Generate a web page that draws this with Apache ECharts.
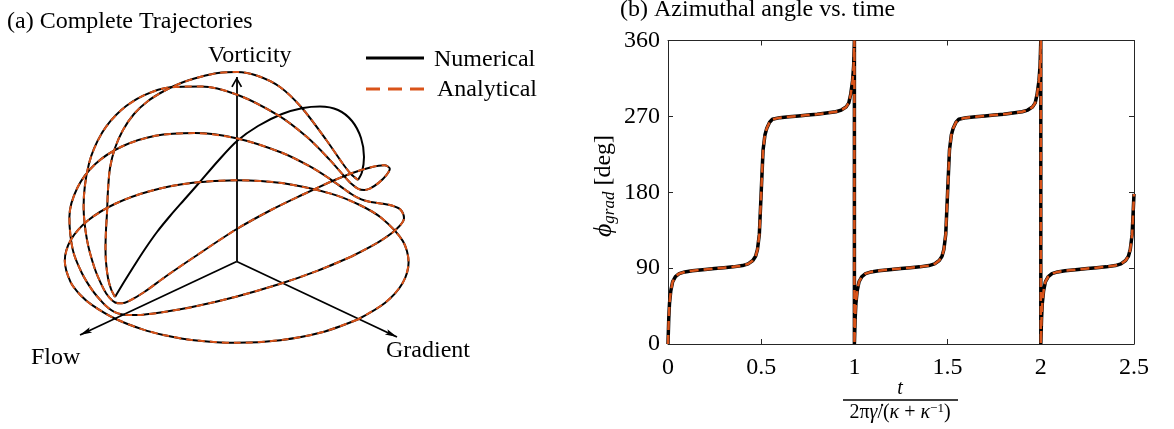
<!DOCTYPE html>
<html>
<head>
<meta charset="utf-8">
<script src="https://cdn.jsdelivr.net/npm/echarts@6/dist/echarts.min.js"></script>
<style>
  html, body { margin: 0; padding: 0; background: #fff; }
  #chart { width: 1174px; height: 429px; }
</style>
</head>
<body>
<div id="chart"></div>
<script>
const serif = "'Liberation Serif', 'DejaVu Serif', serif";
const black = "#000000";
const orange = "#D95319";
const frame = "#262626";

// ---- (b) azimuthal angle vs. time ----
const phiTime = [
  0, 0.004, 0.008, 0.015, 0.025, 0.04, 0.06, 0.09, 0.13, 0.2, 0.25, 0.3, 0.35, 0.4, 0.43, 0.455, 0.47, 0.48, 0.49,
  0.5, 0.51, 0.52, 0.53, 0.545, 0.56, 0.6, 0.65, 0.7, 0.75, 0.8, 0.85, 0.9, 0.93, 0.955, 0.97, 0.98, 0.99, 0.996, 1,
  1, 1.004, 1.008, 1.015, 1.025, 1.04, 1.06, 1.09, 1.13, 1.2, 1.25, 1.3, 1.35, 1.4, 1.43, 1.455, 1.47, 1.48, 1.49,
  1.5, 1.51, 1.52, 1.53, 1.545, 1.56, 1.6, 1.65, 1.7, 1.75, 1.8, 1.85, 1.9, 1.93, 1.955, 1.97, 1.98, 1.99, 1.996, 2,
  2, 2.004, 2.008, 2.015, 2.025, 2.04, 2.06, 2.09, 2.13, 2.2, 2.25, 2.3, 2.35, 2.4, 2.43, 2.455, 2.47, 2.48, 2.49, 2.5
];
const phiDeg = [
  0, 30, 48, 63, 74, 80, 83.5, 85.5, 87, 88.5, 89.5, 90.5, 91.5, 93, 95, 99, 104, 112, 130,
  180, 230, 248, 256, 263, 266.5, 268.5, 269.5, 270.5, 271.5, 272.5, 274, 275.5, 277.5, 281, 286, 296, 312, 330, 360,
  0, 30, 48, 63, 74, 80, 83.5, 85.5, 87, 88.5, 89.5, 90.5, 91.5, 93, 95, 99, 104, 112, 130,
  180, 230, 248, 256, 263, 266.5, 268.5, 269.5, 270.5, 271.5, 272.5, 274, 275.5, 277.5, 281, 286, 296, 312, 330, 360,
  0, 30, 48, 63, 74, 80, 83.5, 85.5, 87, 88.5, 89.5, 90.5, 91.5, 93, 95, 99, 104, 112, 130, 178
];
const xTickValues = [0, 0.5, 1, 1.5, 2, 2.5];
const xTickLabels = ["0", "0.5", "1", "1.5", "2", "2.5"];
const yTickValues = [0, 90, 180, 270, 360];
const yTickLabels = ["0", "90", "180", "270", "360"];

// ---- (a) trajectories, projected onto the page plane (x right, y down) ----
const equatorOrbit = [
  [357.7, 319.5], [322.0, 332.3], [280.5, 340.2], [236.0, 342.8], [191.5, 339.9], [163.4, 334.9], [142.6, 329.4],
  [114.7, 318.5], [92.2, 305.2], [80.6, 295.3], [70.5, 281.9], [64.8, 260.8], [70.9, 239.8], [88.2, 220.3],
  [115.7, 203.5], [151.4, 190.7], [192.9, 182.8], [237.4, 180.2], [281.9, 183.1], [330.8, 193.6], [358.7, 204.5],
  [381.2, 217.8], [402.9, 241.1], [408.6, 262.2], [402.5, 283.2], [385.2, 302.7], [357.7, 319.5]
];
const orbitLargeC = [
  [351.5, 256.5], [317.9, 270.6], [278.8, 284.3], [236.0, 296.7], [192.1, 307.1], [163.9, 312.0], [142.9, 314.7],
  [128.1, 315.0], [121.3, 314.3], [114.8, 312.2], [108.7, 308.3], [102.9, 302.9], [92.6, 290.6], [81.7, 272.7],
  [72.8, 249.9], [69.4, 216.9], [77.4, 187.8], [95.3, 164.0], [121.9, 146.5], [155.5, 135.8], [194.6, 133.1],
  [237.4, 138.5], [281.3, 152.5], [309.5, 166.2], [330.5, 179.3], [345.3, 189.8], [352.1, 194.5], [358.6, 198.2],
  [364.7, 200.5], [370.5, 201.9], [380.8, 203.4], [391.7, 205.5], [400.6, 209.7], [404.0, 218.3], [396.0, 229.6],
  [378.1, 242.4], [351.5, 256.5]
];
const orbitMidC = [
  [330.0, 182.0], [303.0, 194.5], [272.0, 209.5], [236.0, 229.5], [195.0, 256.5], [166.4, 276.0], [144.3, 292.0],
  [128.8, 301.2], [121.7, 303.3], [115.1, 302.5], [109.2, 297.4], [103.7, 289.1], [94.8, 268.7], [87.0, 239.9],
  [83.6, 206.4], [88.9, 164.0], [102.2, 132.6], [121.0, 110.3], [143.8, 95.4], [170.3, 87.2], [201.2, 86.4],
  [237.3, 94.7], [278.3, 115.4], [307.0, 137.1], [329.1, 159.1], [344.6, 176.6], [351.7, 184.1], [358.3, 188.9],
  [364.2, 190.0], [369.7, 188.7], [378.6, 182.9], [386.4, 175.1], [389.8, 168.8], [384.5, 165.2], [371.2, 167.2],
  [352.4, 173.0], [330.0, 182.0]
];
const orbitSmallC = [
  [115, 297], [111, 289], [108, 278], [106, 262], [105.5, 248], [106, 230], [107, 213], [108, 190], [110, 168],
  [115, 148], [123, 130], [134, 114], [148, 101], [164, 91], [181, 83], [200, 77], [218, 73], [237, 72], [258, 76],
  [280, 87], [302, 108], [327, 141], [343, 164], [351, 174], [358, 180]
];
const orbitSmallCNumerical = [
  [358, 180], [362, 172], [364, 157], [361, 138], [352, 121], [338, 110], [320, 106.5], [303, 108], [282, 114],
  [258, 126], [237, 141], [218, 161], [199, 183], [184, 200], [170, 216], [157, 232], [145, 249], [134, 266],
  [124, 282], [115, 297]
];
const axisOrigin = [236.7, 261.5];
const vorticityTip = [236.7, 77];
const flowTip = [80, 335];
const gradientTip = [397, 337];

const zip = (xs, ys) => xs.map((x, i) => [x, ys[i]]);
const phiData = zip(phiTime, phiDeg);

const solid = { color: black, width: 2 };
const dashed = { color: orange, width: 2, type: [7, 5] };

function trajectory(data, lineStyle) {
  return {
    type: "line", xAxisIndex: 0, yAxisIndex: 0, data: data,
    showSymbol: false, symbol: "none", smooth: 0.3, silent: true, lineStyle: lineStyle
  };
}

const chevron = "path://M0,0L0.01,0Z M24,24L24.01,24Z M12,12L17.5,21.5L16,22.3L12,15L8,22.3L6.5,21.5Z";
const headFilled = "path://M0,0L0.01,0Z M24,24L24.01,24Z M12,12L15,24L12,21.5L9,24Z";

const boxAxis = {
  axisLine: { onZero: false, lineStyle: { color: frame, width: 1 } },
  axisTick: { inside: true, length: 5, lineStyle: { color: frame, width: 1 } },
  splitLine: { show: false }
};

const pickLabel = (values, labels) => (v) => {
  const i = values.findIndex((t) => Math.abs(t - v) < 1e-6);
  return i < 0 ? "" : labels[i];
};

const chart = echarts.init(document.getElementById("chart"), null, { renderer: "canvas" });

const option = {
  animation: false,
  backgroundColor: "#ffffff",
  grid: [
    { left: 0, top: 0, width: 560, height: 429 },
    { left: 668, top: 40.5, width: 466, height: 303.5 }
  ],
  xAxis: [
    { gridIndex: 0, type: "value", min: 0, max: 560, show: false },
    Object.assign({
      gridIndex: 1, type: "value", min: 0, max: 2.5, interval: 0.5,
      axisLabel: {
        color: black, fontFamily: serif, fontSize: 24, margin: 12,
        formatter: pickLabel(xTickValues, xTickLabels)
      }
    }, boxAxis),
    Object.assign({
      gridIndex: 1, type: "value", position: "top", min: 0, max: 2.5, interval: 0.5,
      axisLabel: { show: false }
    }, boxAxis)
  ],
  yAxis: [
    { gridIndex: 0, type: "value", min: 0, max: 429, inverse: true, show: false },
    Object.assign({
      gridIndex: 1, type: "value", min: 0, max: 360, interval: 90,
      axisLabel: {
        color: black, fontFamily: serif, fontSize: 24, margin: 8,
        formatter: pickLabel(yTickValues, yTickLabels)
      }
    }, boxAxis),
    Object.assign({
      gridIndex: 1, type: "value", position: "right", min: 0, max: 360, interval: 90,
      axisLabel: { show: false }
    }, boxAxis)
  ],
  series: [
    {
      type: "lines", coordinateSystem: "cartesian2d", xAxisIndex: 0, yAxisIndex: 0, silent: true,
      symbol: ["none", chevron], symbolSize: 24,
      lineStyle: { color: black, width: 1.8, opacity: 1 },
      data: [{ coords: [axisOrigin, vorticityTip] }]
    },
    {
      type: "lines", coordinateSystem: "cartesian2d", xAxisIndex: 0, yAxisIndex: 0, silent: true,
      symbol: ["none", headFilled], symbolSize: 24,
      lineStyle: { color: black, width: 1.8, opacity: 1 },
      data: [{ coords: [axisOrigin, flowTip] }, { coords: [axisOrigin, gradientTip] }]
    },
    trajectory(equatorOrbit, solid),
    trajectory(orbitLargeC, solid),
    trajectory(orbitMidC, solid),
    trajectory(orbitSmallC, solid),
    trajectory(orbitSmallCNumerical, solid),
    trajectory(equatorOrbit, dashed),
    trajectory(orbitLargeC, dashed),
    trajectory(orbitMidC, dashed),
    trajectory(orbitSmallC, dashed),
    {
      name: "Numerical", type: "line", xAxisIndex: 1, yAxisIndex: 1, data: phiData,
      showSymbol: false, symbol: "none", silent: true,
      lineStyle: { color: black, width: 3.5 }
    },
    {
      name: "Analytical", type: "line", xAxisIndex: 1, yAxisIndex: 1, data: phiData,
      showSymbol: false, symbol: "none", silent: true,
      lineStyle: { color: orange, width: 2.5, type: [9, 5] }
    }
  ],
  graphic: [
    { type: "text", x: 7, y: 22, style: { text: "(a) Complete Trajectories", fontFamily: serif, fontSize: 24, fill: black, align: "left", verticalAlign: "middle" } },
    { type: "text", x: 620, y: 10, style: { text: "(b) Azimuthal angle vs. time", fontFamily: serif, fontSize: 24, fill: black, align: "left", verticalAlign: "middle" } },
    { type: "text", x: 208, y: 56, style: { text: "Vorticity", fontFamily: serif, fontSize: 24, fill: black, align: "left", verticalAlign: "middle" } },
    { type: "text", x: 31, y: 358, style: { text: "Flow", fontFamily: serif, fontSize: 24, fill: black, align: "left", verticalAlign: "middle" } },
    { type: "text", x: 386, y: 351, style: { text: "Gradient", fontFamily: serif, fontSize: 24, fill: black, align: "left", verticalAlign: "middle" } },
    { type: "line", shape: { x1: 366, y1: 58, x2: 424, y2: 58 }, style: { stroke: black, lineWidth: 3 } },
    { type: "line", shape: { x1: 366, y1: 89, x2: 424, y2: 89 }, style: { stroke: orange, lineWidth: 3, lineDash: [14, 8] } },
    { type: "text", x: 434, y: 59.5, style: { text: "Numerical", fontFamily: serif, fontSize: 24, fill: black, align: "left", verticalAlign: "middle" } },
    { type: "text", x: 437, y: 90, style: { text: "Analytical", fontFamily: serif, fontSize: 24, fill: black, align: "left", verticalAlign: "middle" } },
    {
      type: "text", x: 604, y: 186, rotation: Math.PI / 2,
      style: {
        text: "{i|ϕ}{s|grad}{n| [deg]}", align: "center", verticalAlign: "middle",
        rich: {
          i: { fontFamily: serif, fontSize: 26, fontStyle: "italic", fill: black },
          s: { fontFamily: serif, fontSize: 17, fontStyle: "italic", fill: black, padding: [12, 0, 0, 0] },
          n: { fontFamily: serif, fontSize: 24, fill: black }
        }
      }
    },
    { type: "text", x: 900, y: 389, style: { text: "t", fontFamily: serif, fontSize: 20, fontStyle: "italic", fill: black, align: "center", verticalAlign: "middle" } },
    { type: "line", shape: { x1: 843, y1: 400, x2: 958, y2: 400 }, style: { stroke: black, lineWidth: 1.4 } },
    {
      type: "text", x: 900, y: 413,
      style: {
        text: "{n|2π}{i|γ̇}{n|/(}{i|κ}{n| + }{i|κ}{p|−1}{n|)}", align: "center", verticalAlign: "middle",
        rich: {
          n: { fontFamily: serif, fontSize: 20, fill: black },
          i: { fontFamily: serif, fontSize: 20, fontStyle: "italic", fill: black },
          p: { fontFamily: serif, fontSize: 13, fill: black, padding: [0, 0, 9, 0] }
        }
      }
    }
  ]
};

chart.setOption(option);
</script>
</body>
</html>
